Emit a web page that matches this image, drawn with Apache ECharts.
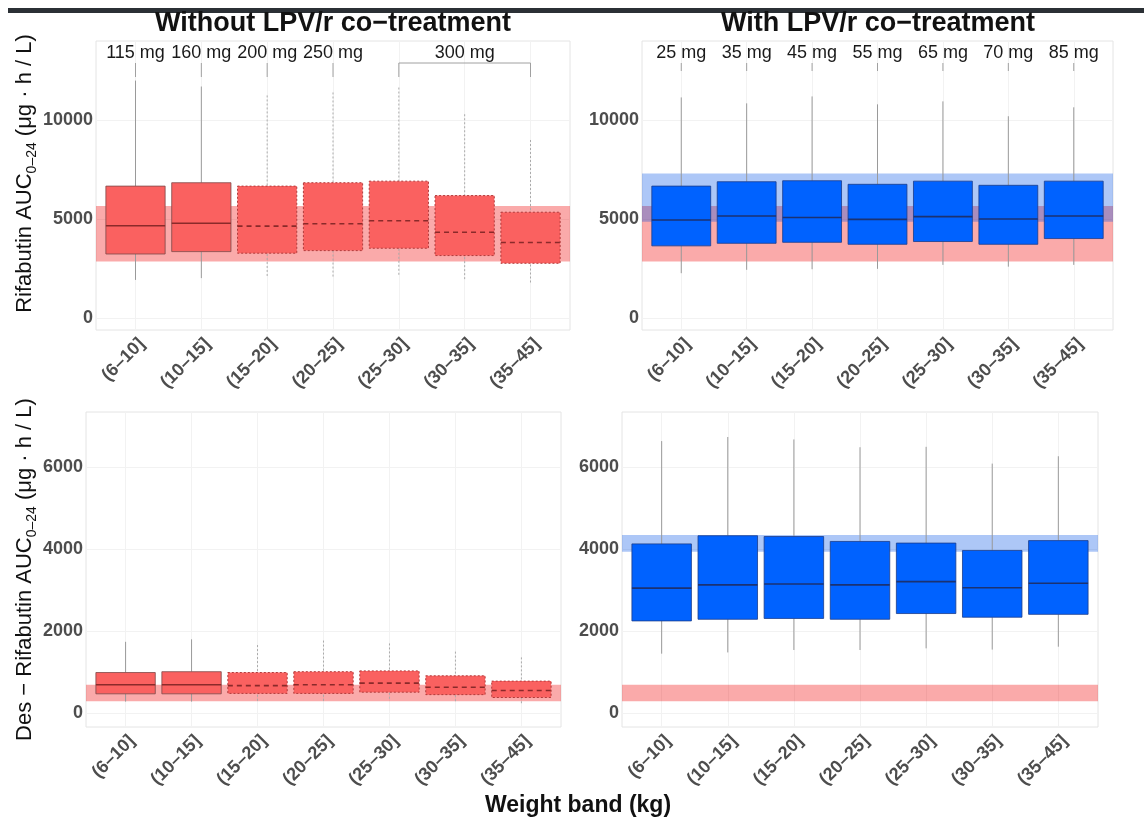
<!DOCTYPE html>
<html><head><meta charset="utf-8">
<script src="https://cdn.jsdelivr.net/npm/echarts@6/dist/echarts.min.js"></script>
<style>html,body{margin:0;padding:0;background:#fff}#c{width:1144px;height:821px}</style>
</head><body><div id="c"></div><script>
// ---------------- DATA ----------------
const categories = ['(6–10]','(10–15]','(15–20]','(20–25]','(25–30]','(30–35]','(35–45]'];
const dosesWithout = ['115 mg','160 mg','200 mg','250 mg','300 mg'];
const dosesWithoutFrom = [0,1,2,3,4];
const dosesWithoutTo   = [0,1,2,3,6];
const dosesWith = ['25 mg','35 mg','45 mg','55 mg','65 mg','70 mg','85 mg'];
const yTicksTop = [0,5000,10000];
const yTicksBottom = [0,2000,4000,6000];

// Rifabutin AUC0-24, without LPV/r
const rbtWithoutLow  = [1930, 2020, 2130, 2100, 2190, 1970, 1800];
const rbtWithoutQ1   = [3240, 3360, 3280, 3410, 3530, 3160, 2770];
const rbtWithoutMed  = [4670, 4790, 4650, 4770, 4920, 4340, 3820];
const rbtWithoutQ3   = [6670, 6840, 6670, 6840, 6920, 6190, 5350];
const rbtWithoutHigh = [12000, 11700, 11250, 11400, 11650, 10300, 9000];
// Rifabutin AUC0-24, with LPV/r
const rbtWithLow  = [2270, 2440, 2470, 2490, 2690, 2600, 2690];
const rbtWithQ1   = [3650, 3780, 3830, 3730, 3870, 3730, 4020];
const rbtWithMed  = [4960, 5160, 5080, 4990, 5130, 5010, 5160];
const rbtWithQ3   = [6670, 6890, 6940, 6760, 6920, 6710, 6920];
const rbtWithHigh = [11150, 10850, 11200, 10800, 10950, 10200, 10650];
// Des-rifabutin AUC0-24, without LPV/r
const desWithoutLow  = [280, 280, 300, 300, 350, 290, 240];
const desWithoutQ1   = [470, 470, 480, 480, 510, 450, 380];
const desWithoutMed  = [690, 690, 670, 690, 730, 630, 550];
const desWithoutQ3   = [990, 1010, 990, 1010, 1030, 910, 780];
const desWithoutHigh = [1740, 1800, 1660, 1770, 1700, 1500, 1360];
// Des-rifabutin AUC0-24, with LPV/r
const desWithLow  = [1450, 1480, 1540, 1540, 1580, 1550, 1620];
const desWithQ1   = [2250, 2290, 2310, 2290, 2430, 2340, 2410];
const desWithMed  = [3050, 3130, 3150, 3130, 3210, 3060, 3170];
const desWithQ3   = [4130, 4330, 4310, 4190, 4150, 3970, 4210];
const desWithHigh = [6640, 6740, 6680, 6490, 6500, 6090, 6270];
// Reference ranges (adult exposure bands)
const rbtRefWithout = [2860, 5660];
const rbtRefWith    = [4870, 7310];
const desRefWithout = [290, 690];
const desRefWith    = [3940, 4350];

// ---------------- RENDERING ----------------
const FONT = 'Liberation Sans, Arial, sans-serif';
const dottedLeft = [false,false,true,true,true,true,true];
const dottedNone = [false,false,false,false,false,false,false];

function boxData(lo,q1,md,q3,hi){ return categories.map((c,i)=>[i,lo[i],q1[i],md[i],q3[i],hi[i]]); }

function boxRenderer(st, dotted){
  return function(params, api){
    const i = api.value(0);
    const pLo = api.coord([i, api.value(1)]), pQ1 = api.coord([i, api.value(2)]),
          pMd = api.coord([i, api.value(3)]), pQ3 = api.coord([i, api.value(4)]),
          pHi = api.coord([i, api.value(5)]);
    const half = api.size([0.9, 0])[0] / 2;
    const dot = dotted[i];
    const ws = {stroke: dot ? st.whiskerDot : st.whisker, lineWidth: 1, lineDash: dot ? [2,2] : null};
    return {type:'group', children:[
      {type:'line', shape:{x1:pHi[0],y1:pHi[1],x2:pQ3[0],y2:pQ3[1]}, style:ws},
      {type:'line', shape:{x1:pLo[0],y1:pLo[1],x2:pQ1[0],y2:pQ1[1]}, style:ws},
      {type:'rect', shape:{x:pQ3[0]-half, y:pQ3[1], width:2*half, height:pQ1[1]-pQ3[1]},
        style:{fill:st.fill, stroke: dot ? st.dotBorder : st.border, lineWidth: dot ? 1 : 0.8, lineDash: dot ? [2,2] : null}},
      {type:'line', shape:{x1:pMd[0]-half,y1:pMd[1],x2:pMd[0]+half,y2:pMd[1]},
        style:{stroke:st.median, lineWidth:1.6, lineDash: dot ? [5,4] : null}}
    ]};
  };
}

function bandRenderer(color){
  return function(params, api){
    const cs = params.coordSys;
    const yHi = api.coord([0, api.value(2)])[1], yLo = api.coord([0, api.value(1)])[1];
    return {type:'rect', shape:{x:cs.x, y:yHi, width:cs.width, height:yLo-yHi}, style:{fill:color}};
  };
}

function doseRenderer(labels, tickLen){
  return function(params, api){
    const cs = params.coordSys;
    const a = api.coord([api.value(0), 0])[0], b = api.coord([api.value(1), 0])[0];
    const lbl = labels[api.value(2)];
    const y0 = cs.y + 22, y1 = cs.y + 22 + tickLen;
    const ch = [{type:'text', x:(a+b)/2, y:cs.y + 12,
      style:{text:lbl, align:'center', verticalAlign:'middle', font:'18px ' + FONT, fill:'#1a1a1a'}}];
    const ls = {stroke:'#a0a0a0', lineWidth:1, fill:'none'};
    if (a === b) {
      ch.push({type:'line', shape:{x1:a,y1:y0,x2:a,y2:y1}, style:ls});
    } else {
      ch.push({type:'polyline', shape:{points:[[a,y1],[a,y0],[b,y0],[b,y1]]}, style:ls});
    }
    return {type:'group', children:ch};
  };
}

const redStyle = {fill:'#FA6160', border:'#7d4747', dotBorder:'#b13b3b', median:'#8a2a2a', whisker:'#9a9a9a', whiskerDot:'#aaaaaa'};
const blueStyle = {fill:'#0062FF', border:'#1a3c8c', dotBorder:'#1a3c8c', median:'#1b3272', whisker:'#9a9a9a', whiskerDot:'#aaaaaa'};
const RED_BAND = 'rgba(240,0,0,0.333)';
const BLUE_BAND = 'rgba(0,80,230,0.32)';

const grids = [
  {left:96,  top:41,  width:474, height:289},
  {left:642, top:41,  width:471, height:289},
  {left:86,  top:412, width:475, height:315},
  {left:622, top:412, width:476, height:315}
].map(g => Object.assign({show:true, borderColor:'#e4e4e4', borderWidth:1, backgroundColor:'transparent', containLabel:false}, g));

const catIdx = categories.map((c,i)=>i);
const xAxes = [0,1,2,3].map(gi => ({
  type:'value', gridIndex:gi, min:-0.6, max:6.6,
  axisLine:{show:false},
  axisTick:{show:false, customValues:catIdx},
  axisLabel:{customValues:catIdx, rotate:45, margin:5, verticalAlign:'top', fontSize:18, fontWeight:'bold', color:'#4d4d4d', fontFamily:FONT,
    formatter: v => categories[Math.round(v)]},
  splitLine:{show:true, lineStyle:{color:'#f2f2f2', width:1}}
}));

const sub = {s:{fontSize:14, verticalAlign:'bottom', fontFamily:FONT, color:'#111'}};
function yAxis(gi, min, max, ticks, name, gap, shift){
  return {
    type:'value', gridIndex:gi, min:min, max:max,
    axisLine:{show:false},
    axisTick:{show:false, customValues:ticks},
    axisLabel:{customValues:ticks, margin:3, fontSize:18, fontWeight:'bold', color:'#4d4d4d', fontFamily:FONT,
      formatter: v => String(v)},
    splitLine:{show:true, lineStyle:{color:'#f2f2f2', width:1}},
    name:name, nameLocation:'middle', nameRotate:90, nameGap:gap,
    nameTextStyle:{fontSize:22, color:'#111', fontFamily:FONT, lineHeight:28, rich:sub, padding:[0,0,0,shift]}
  };
}
const yAxes = [
  yAxis(0, -600, 14000, yTicksTop, 'Rifabutin AUC{s|0–24} (μg · h / L)', 50, 24),
  yAxis(1, -600, 14000, yTicksTop, '', 0, 0),
  yAxis(2, -340, 7350, yTicksBottom, 'Des − Rifabutin AUC{s|0–24} (μg · h / L)', 39, 0),
  yAxis(3, -340, 7350, yTicksBottom, '', 0, 0)
];

function bandSeries(gi, range, color){
  return {type:'custom', xAxisIndex:gi, yAxisIndex:gi, z:1, silent:true,
    data:[[0, range[0], range[1]]], encode:{x:0, y:[1,2]}, renderItem:bandRenderer(color)};
}
function boxSeries(gi, data, st, dotted){
  return {type:'custom', xAxisIndex:gi, yAxisIndex:gi, z:3, silent:true,
    data:data, encode:{x:0, y:[1,2,3,4,5]}, renderItem:boxRenderer(st, dotted)};
}

const series = [
  bandSeries(0, rbtRefWithout, RED_BAND),
  bandSeries(1, rbtRefWithout, RED_BAND),
  bandSeries(1, rbtRefWith, BLUE_BAND),
  bandSeries(2, desRefWithout, RED_BAND),
  bandSeries(3, desRefWithout, RED_BAND),
  bandSeries(3, desRefWith, BLUE_BAND),
  boxSeries(0, boxData(rbtWithoutLow, rbtWithoutQ1, rbtWithoutMed, rbtWithoutQ3, rbtWithoutHigh), redStyle, dottedLeft),
  boxSeries(1, boxData(rbtWithLow, rbtWithQ1, rbtWithMed, rbtWithQ3, rbtWithHigh), blueStyle, dottedNone),
  boxSeries(2, boxData(desWithoutLow, desWithoutQ1, desWithoutMed, desWithoutQ3, desWithoutHigh), redStyle, dottedLeft),
  boxSeries(3, boxData(desWithLow, desWithQ1, desWithMed, desWithQ3, desWithHigh), blueStyle, dottedNone),
  {type:'custom', xAxisIndex:0, yAxisIndex:0, z:4, silent:true,
    data: dosesWithout.map((d,k)=>[dosesWithoutFrom[k], dosesWithoutTo[k], k]), encode:{x:[0,1]},
    renderItem: doseRenderer(dosesWithout, 14)},
  {type:'custom', xAxisIndex:1, yAxisIndex:1, z:4, silent:true,
    data: dosesWith.map((d,k)=>[k, k, k]), encode:{x:[0,1]},
    renderItem: doseRenderer(dosesWith, 8)}
];

const chart = echarts.init(document.getElementById('c'), null, {renderer:'canvas'});
chart.setOption({
  animation:false,
  backgroundColor:'#ffffff',
  grid:grids, xAxis:xAxes, yAxis:yAxes, series:series,
  graphic:[
    {type:'rect', shape:{x:8, y:8, width:1136, height:5}, style:{fill:'#2b3035'}},
    {type:'text', x:333, y:24, style:{text:'Without LPV/r co−treatment', align:'center', verticalAlign:'middle', font:'bold 27px ' + FONT, fill:'#111'}},
    {type:'text', x:878, y:24, style:{text:'With LPV/r co−treatment', align:'center', verticalAlign:'middle', font:'bold 27px ' + FONT, fill:'#111'}},
    {type:'text', x:578, y:806, style:{text:'Weight band (kg)', align:'center', verticalAlign:'middle', font:'bold 23px ' + FONT, fill:'#111'}}
  ]
});
</script></body></html>
